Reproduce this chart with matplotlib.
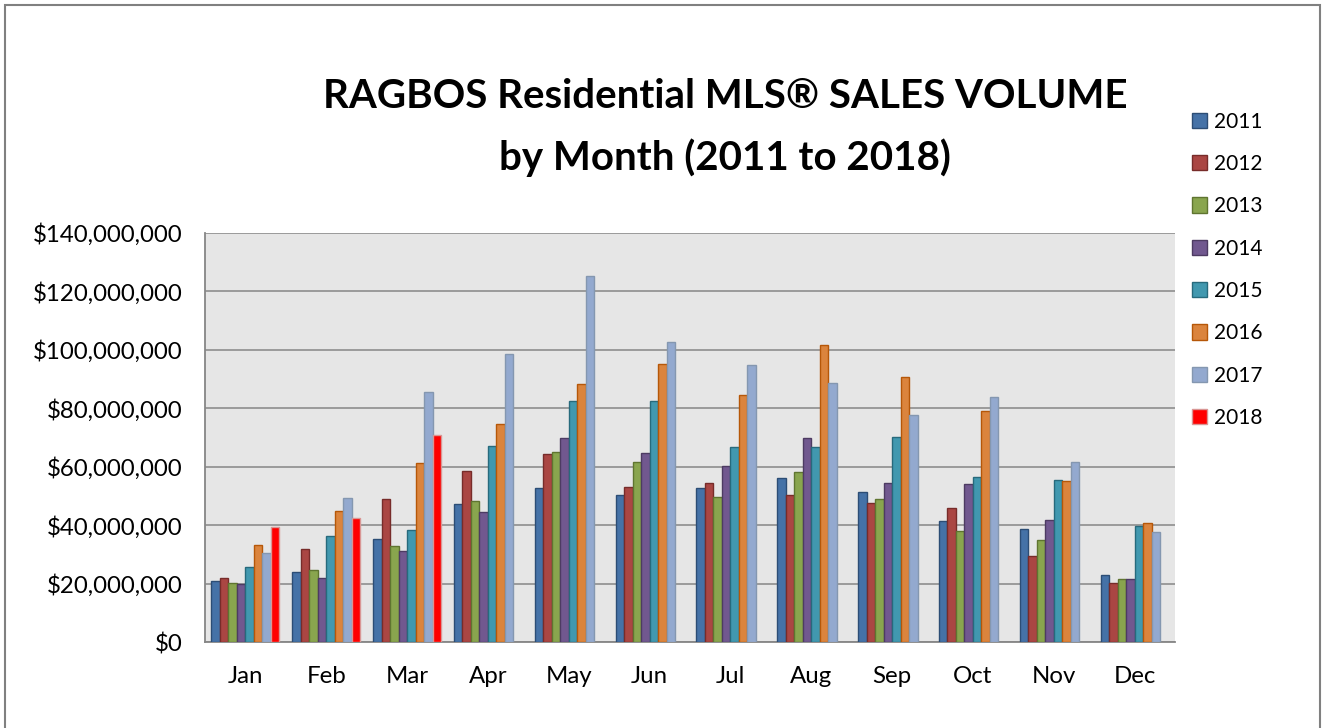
import numpy as np
import matplotlib.pyplot as plt
from matplotlib.patches import Rectangle
from matplotlib.ticker import FuncFormatter

plt.rcParams['font.family'] = ['Lato', 'DejaVu Sans']

months = ['Jan', 'Feb', 'Mar', 'Apr', 'May', 'Jun', 'Jul', 'Aug', 'Sep', 'Oct', 'Nov', 'Dec']
years = ['2011', '2012', '2013', '2014', '2015', '2016', '2017', '2018']

# sales volume in $ millions
v2011 = [20.9, 23.9, 35.2, 47.2, 52.6, 50.3, 52.8, 56.1, 51.4, 41.4, 38.6, 22.9]
v2012 = [21.9, 32.0, 49.1, 58.6, 64.5, 52.9, 54.4, 50.3, 47.7, 45.7, 29.3, 20.2]
v2013 = [20.2, 24.7, 32.8, 48.1, 65.0, 61.7, 49.8, 58.2, 49.0, 37.9, 35.0, 21.7]
v2014 = [19.8, 21.8, 31.1, 44.6, 69.7, 64.8, 60.2, 69.7, 54.5, 54.1, 41.9, 21.7]
v2015 = [25.6, 36.3, 38.5, 67.1, 82.5, 82.6, 66.7, 66.9, 70.3, 56.6, 55.3, 39.8]
v2016 = [33.1, 44.7, 61.4, 74.5, 88.2, 95.0, 84.7, 101.7, 90.7, 79.2, 55.0, 40.8]
v2017 = [30.3, 49.4, 85.5, 98.7, 125.4, 102.6, 94.9, 88.5, 77.6, 83.9, 61.7, 37.5]
v2018 = [39.4, 42.4, 71.0]

series = [v2011, v2012, v2013, v2014, v2015, v2016, v2017, v2018]
fills = ['#4572A7', '#AA4643', '#89A54E', '#71588F', '#4198AF', '#DB843D', '#93A9CF', '#FF0000']
edges = ['#2C4D75', '#772C2A', '#5F7530', '#4D3B62', '#276A7C', '#B65708', '#8497B0', '#D99694']

fig = plt.figure(figsize=(13.22, 7.28), dpi=100)
ax = fig.add_axes([205 / 1322, 1 - 642 / 728, 970 / 1322, 409 / 728])
ax.set_facecolor('#E6E6E6')

x = np.arange(len(months))
w = 0.105
for i, (vals, fc, ec, yr) in enumerate(zip(series, fills, edges, years)):
    xs = x[:len(vals)] - 3.5 * w + i * w
    ax.bar(xs, np.array(vals) * 1e6, width=w, color=fc, edgecolor=ec,
           linewidth=1.0, label=yr, zorder=3)

ax.set_xlim(-0.5, 11.5)
ax.set_ylim(0, 140e6)
ax.set_yticks(np.arange(0, 140e6 + 1, 20e6))
ax.yaxis.set_major_formatter(FuncFormatter(lambda v, p: '${:,.0f}'.format(v)))
ax.set_xticks(x)
ax.set_xticklabels(months)
ax.grid(axis='y', color='#868686', linewidth=1.1, zorder=0)
ax.set_axisbelow(True)
ax.tick_params(axis='both', length=0, labelsize=17.3)
ax.tick_params(axis='y', pad=16)
ax.tick_params(axis='x', pad=17)
for s in ['top', 'right']:
    ax.spines[s].set_visible(False)
for s in ['left', 'bottom']:
    ax.spines[s].set_color('#868686')
    ax.spines[s].set_linewidth(1.3)

fig.text(725 / 1322, 1 - 97 / 728, 'RAGBOS Residential MLS® SALES VOLUME',
         ha='center', va='center', fontsize=29, fontweight='bold')
fig.text(725 / 1322, 1 - 158 / 728, 'by Month (2011 to 2018)',
         ha='center', va='center', fontsize=29, fontweight='bold')

ax.legend(loc='upper left', bbox_to_anchor=(1173 / 1322, 1 - 93 / 728),
          bbox_transform=fig.transFigure, frameon=False, fontsize=15,
          handlelength=0.75, handleheight=0.75, handletextpad=0.3, labelspacing=1.07)

fig.patches.append(Rectangle((5 / 1322, -0.05), 1315 / 1322, 1.05 - 5 / 728,
                             transform=fig.transFigure, fill=False,
                             edgecolor='#808080', linewidth=1.5))

plt.savefig('out.png', dpi=100)
